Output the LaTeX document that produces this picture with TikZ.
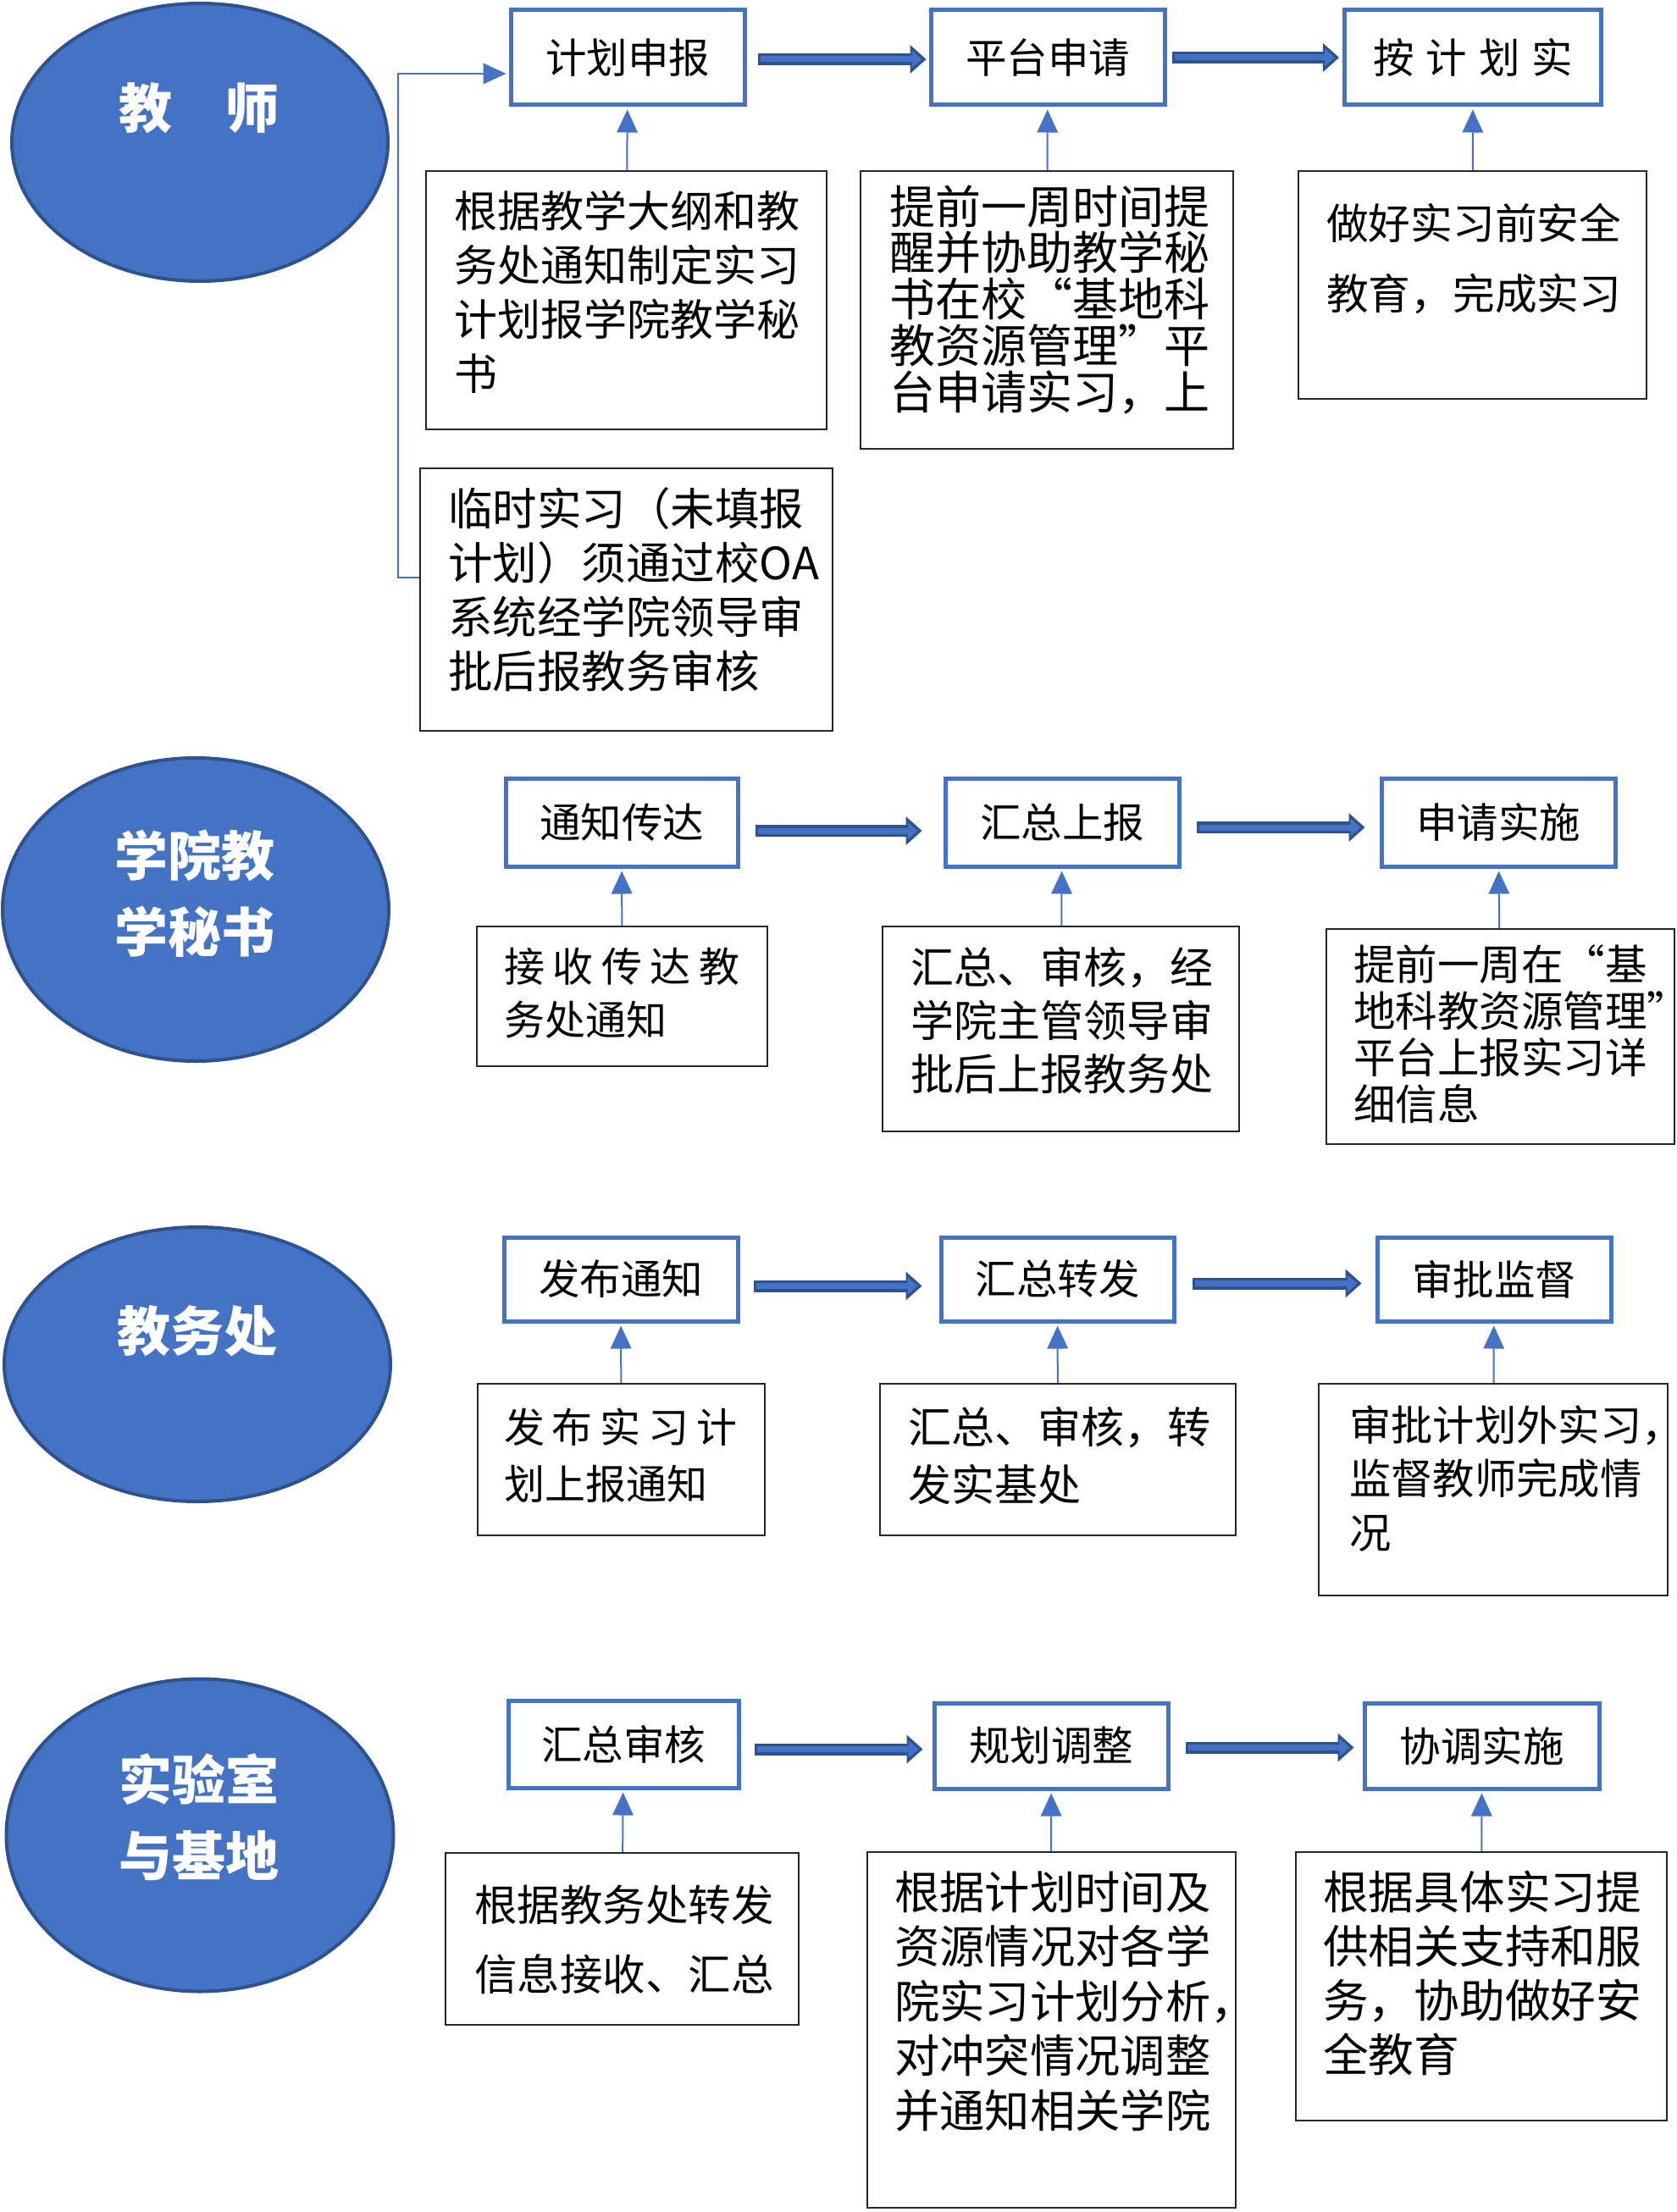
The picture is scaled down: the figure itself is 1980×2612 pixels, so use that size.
\documentclass[tikz,border=0pt]{standalone}
\usepackage{fontspec}
\setmainfont{Noto Sans CJK SC}
\usetikzlibrary{arrows.meta,shapes.geometric}
\definecolor{mainblue}{HTML}{4472C4}
\definecolor{darkblue}{HTML}{2F528F}

\begin{document}
\begin{tikzpicture}[x=1pt,y=-1pt,
    role/.style={ellipse,fill=mainblue,draw=darkblue,line width=4pt,inner sep=0pt},
    roletext/.style={text=white,align=center,inner sep=0pt,font=\fontsize{63}{90}\selectfont\bfseries},
    stage/.style={draw=mainblue,line width=5pt,fill=white,inner sep=0pt,font=\fontsize{48.5}{58}\selectfont},
    note/.style={draw=black!85,line width=2.5pt,inner sep=0pt},
    notetext/.style 2 args={anchor=base west,align=left,inner sep=0pt,font=\fontsize{#1}{#2}\selectfont},
    flowout/.style={draw=darkblue,line width=14pt,-{Triangle[length=19pt,width=34pt,line width=0pt]}},
    flowin/.style={draw=mainblue,line width=7pt,-{Triangle[length=12pt,width=21pt,line width=0pt]}},
    feed/.style={draw=mainblue,line width=2pt,shorten >=3pt,-{Triangle[length=27pt,width=25pt,line width=0pt]}}]
            \path[use as bounding box,fill=white](0,0)rectangle(1980,2612);
            % teacher
            \node[role,minimum width=444,minimum height=328](E1)at(236,168){};
            \node[roletext](R1)at(235,128){教　师};
            \node[stage,minimum width=276,minimum height=112](h11)at(741,68){计划申报};
            \node[stage,minimum width=276,minimum height=112](h12)at(1237,68){平台申请};
            \node[stage,minimum width=303,minimum height=112](h13)at(1739,68){按\hspace{14pt}计\hspace{14pt}划\hspace{14pt}实};
            \node[note,minimum width=473,minimum height=305](d11)at(739.5,354.5){};
            \node[note,minimum width=440,minimum height=328](d12)at(1236,366){};
            \node[note,minimum width=411,minimum height=269](d13)at(1738.5,336.5){};
            \node[note,minimum width=487,minimum height=310](d14)at(739.5,708){};
            % text nodes sit on the baseline of their last line
            \node[notetext={51}{63.7}](t11)at(536,460){根据教学大纲和教\\务处通知制定实习\\计划报学院教学秘\\书};
            \node[notetext={54}{54.7}](t12)at(1050,483){提前一周时间提\\醒并协助教学秘\\书在校“基地科\\教资源管理”平\\台申请实习，上};
            \node[notetext={49.7}{83}](t13)at(1566,365){做好实习前安全\\教育，完成实习};
            \node[notetext={52.5}{64}](t14)at(529,812){临时实习（未填报\\计划）须通过校OA\\系统经学院领导审\\批后报教务审核};
            % college secretary
            \node[role,minimum width=456,minimum height=358](E2)at(231,1074){};
            \node[roletext](R2)at(230,1055){学院教\\学秘书};
            \node[stage,minimum width=274,minimum height=104](h21)at(734,971){通知传达};
            \node[stage,minimum width=276,minimum height=104](h22)at(1254,971){汇总上报};
            \node[stage,minimum width=276,minimum height=104](h23)at(1769,971){申请实施};
            \node[note,minimum width=343,minimum height=165](d21)at(734.5,1176.5){};
            \node[note,minimum width=421,minimum height=242](d22)at(1252.5,1215){};
            \node[note,minimum width=411,minimum height=254](d23)at(1771.5,1224){};
            \node[notetext={48}{63}](t21)at(595,1222){\makebox[278pt][s]{接\hfill 收\hfill 传\hfill 达\hfill 教}\\务处通知};
            \node[notetext={51}{63}](t22)at(1075,1287){汇总、审核，经\\学院主管领导审\\批后上报教务处};
            \node[notetext={49.5}{55}](t23)at(1598,1322){提前一周在“基\\地科教资源管理”\\平台上报实习详\\细信息};
            % academic affairs office
            \node[role,minimum width=456,minimum height=324](E3)at(233,1611){};
            \node[roletext](R3)at(233,1572){教务处};
            \node[stage,minimum width=276,minimum height=99](h31)at(733,1510.5){发布通知};
            \node[stage,minimum width=275,minimum height=99](h32)at(1248.5,1510.5){汇总转发};
            \node[stage,minimum width=276,minimum height=99](h33)at(1764,1510.5){审批监督};
            \node[note,minimum width=339,minimum height=179](d31)at(733.5,1723.5){};
            \node[note,minimum width=420,minimum height=179](d32)at(1249,1723.5){};
            \node[note,minimum width=412,minimum height=250](d33)at(1763,1759){};
            \node[notetext={48}{67}](t31)at(595,1770){\makebox[275pt][s]{发\hfill 布\hfill 实\hfill 习\hfill 计}\\划上报通知};
            \node[notetext={51}{68}](t32)at(1072,1772){汇总、审核，转\\发实基处};
            \node[notetext={49.3}{63.5}](t33)at(1593,1828){审批计划外实习，\\监督教师完成情\\况};
            % labs and bases
            \node[role,minimum width=457,minimum height=369](E4)at(236,2167){};
            \node[roletext](R4)at(235,2146){实验室\\与基地};
            \node[stage,minimum width=272,minimum height=103](h41)at(736,2059.5){汇总审核};
            \node[stage,minimum width=276,minimum height=101](h42)at(1241,2061.5){规划调整};
            \node[stage,minimum width=277,minimum height=101](h43)at(1749.5,2061.5){协调实施};
            \node[note,minimum width=417,minimum height=203](d41)at(734.5,2289.5){};
            \node[note,minimum width=435,minimum height=420](d42)at(1241.5,2397){};
            \node[note,minimum width=438,minimum height=317](d43)at(1749,2345.5){};
            \node[notetext={50.5}{82}](t41)at(560,2350){根据教务处转发\\信息接收、汇总};
            \node[notetext={53.3}{64.5}](t42)at(1056,2512){根据计划时间及\\资源情况对各学\\院实习计划分析，\\对冲突情况调整\\并通知相关学院};
            \node[notetext={53.7}{64}](t43)at(1562,2446){根据具体实习提\\供相关支持和服\\务，协助做好安\\全教育};
            % connectors
            \foreach \a/\b/\s/\e/\dy in {h11/h12/13/3/2,h12/h13/6/4/0,h21/h22/18/25/10,h22/h23/18/17/6,
                h31/h32/16/20/8,h32/h33/19/16/5,h41/h42/16/11/6,h42/h43/18/10/2}{
                \draw[flowout,shorten <=\s pt,shorten >=\e pt]([yshift=-\dy pt]\a.east)--([yshift=-\dy pt]\a.east-|\b.west);
                \draw[flowin,shorten <=\s pt+3pt,shorten >=\e pt+5pt]([yshift=-\dy pt]\a.east)--([yshift=-\dy pt]\a.east-|\b.west);
            }
            \foreach \n in {11,12,13,21,22,23,31,32,33,41,42,43}
                \draw[feed](d\n)--(h\n);
            \draw[feed]([yshift=26pt]d14.west)--++(-25,0)|-([yshift=-19pt]h11.west);
        \end{tikzpicture}
\end{document}
